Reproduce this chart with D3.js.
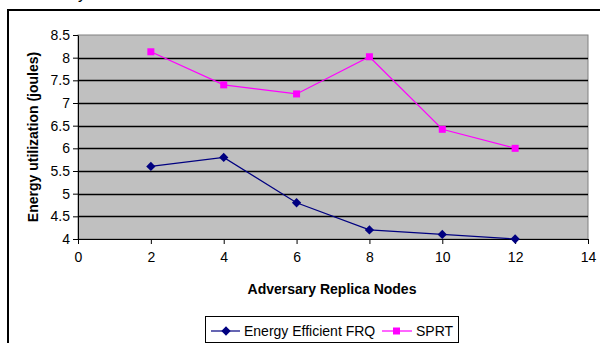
<!DOCTYPE html>
<html>
<head>
<meta charset="utf-8">
<script src="https://cdn.jsdelivr.net/npm/d3@7"></script>
<style>
  body { margin: 0; background: #fff; }
  svg { display: block; font-family: Arial, "Liberation Sans", sans-serif; }
</style>
</head>
<body>
<svg id="chart" width="600" height="343"></svg>
<script>
'use strict';

var xValues = [2, 4, 6, 8, 10, 12];
var frqValues = [5.6, 5.8, 4.8, 4.2, 4.1, 4.0];
var sprtValues = [8.13, 7.4, 7.2, 8.02, 6.42, 6.0];
var xTicks = [0, 2, 4, 6, 8, 10, 12, 14];
var yTicks = [4, 4.5, 5, 5.5, 6, 6.5, 7, 7.5, 8, 8.5];
var seriesNames = ['Energy Efficient FRQ', 'SPRT'];

var svg = d3.select('#chart');
var margin = { top: 35, left: 78, right: 12, bottom: 104 };
var width = 600 - margin.left - margin.right;
var height = 343 - margin.top - margin.bottom;
var fontSize = 14;

// outer chart frame (runs off the page at right/bottom)
svg.append('rect')
    .attr('x', 8).attr('y', 10)
    .attr('width', 620).attr('height', 400)
    .attr('fill', 'none')
    .attr('stroke', '#000')
    .attr('stroke-width', 2);

// clipped descender from text above the chart
svg.append('text')
    .attr('x', 78).attr('y', -1)
    .attr('font-size', 16)
    .text('y');

var xScale = d3.scaleLinear().domain([0, 14]).range([0, width]);
var yScale = d3.scaleLinear().domain([4, 8.5]).range([height, 0]);

var chart = svg.append('g')
    .attr('transform', 'translate(' + margin.left + ',' + margin.top + ')');

chart.append('rect')
    .attr('width', width).attr('height', height)
    .attr('fill', '#c0c0c0')
    .attr('stroke', '#808080')
    .attr('stroke-width', 1);

// gridlines
chart.selectAll('line.grid')
    .data(yTicks.slice(1, -1))
  .enter().append('line')
    .attr('class', 'grid')
    .attr('x1', 0).attr('x2', width)
    .attr('y1', function (d) { return Math.round(yScale(d)) + 0.5; })
    .attr('y2', function (d) { return Math.round(yScale(d)) + 0.5; })
    .attr('stroke', '#000')
    .attr('stroke-width', 1.3);

var xAxis = d3.axisBottom(xScale).tickValues(xTicks).tickSize(5).tickSizeOuter(0).tickPadding(8);
var yAxis = d3.axisLeft(yScale).tickValues(yTicks).tickSize(5).tickSizeOuter(0).tickPadding(3)
    .tickFormat(d3.format('~g'));

var gx = chart.append('g')
    .attr('transform', 'translate(0,' + height + ')')
    .call(xAxis);
var gy = chart.append('g').call(yAxis);

[gx, gy].forEach(function (g) {
  g.selectAll('path, line').attr('stroke', '#000');
  g.selectAll('text').attr('font-size', fontSize).attr('fill', '#000')
      .attr('font-family', 'Arial, "Liberation Sans", sans-serif');
});

// axis titles
svg.append('text')
    .attr('transform', 'translate(38,' + (margin.top + height / 2) + ') rotate(-90)')
    .attr('text-anchor', 'middle')
    .attr('font-size', fontSize)
    .attr('font-weight', 'bold')
    .text('Energy utilization (joules)');

svg.append('text')
    .attr('x', 332).attr('y', 294)
    .attr('text-anchor', 'middle')
    .attr('font-size', fontSize)
    .attr('font-weight', 'bold')
    .text('Adversary Replica Nodes');

var line = d3.line()
    .x(function (d) { return xScale(d[0]); })
    .y(function (d) { return yScale(d[1]); });

var frq = xValues.map(function (x, i) { return [x, frqValues[i]]; });
var sprt = xValues.map(function (x, i) { return [x, sprtValues[i]]; });

var diamond = d3.symbol().type(d3.symbolDiamond2).size(55);

chart.append('path').datum(frq)
    .attr('d', line).attr('fill', 'none')
    .attr('stroke', '#000080').attr('stroke-width', 1.2);
chart.selectAll('path.frq')
    .data(frq)
  .enter().append('path')
    .attr('class', 'frq')
    .attr('d', diamond)
    .attr('transform', function (d) {
      return 'translate(' + xScale(d[0]) + ',' + yScale(d[1]) + ')';
    })
    .attr('fill', '#000080');

chart.append('path').datum(sprt)
    .attr('d', line).attr('fill', 'none')
    .attr('stroke', '#ff00ff').attr('stroke-width', 1.2);
chart.selectAll('rect.sprt')
    .data(sprt)
  .enter().append('rect')
    .attr('class', 'sprt')
    .attr('x', function (d) { return xScale(d[0]) - 3.5; })
    .attr('y', function (d) { return yScale(d[1]) - 3.5; })
    .attr('width', 7).attr('height', 7)
    .attr('fill', '#ff00ff');

// legend
var legend = svg.append('g');
legend.append('rect')
    .attr('x', 205.5).attr('y', 316.5)
    .attr('width', 253).attr('height', 26)
    .attr('fill', '#fff')
    .attr('stroke', '#000')
    .attr('stroke-width', 1);

legend.append('line')
    .attr('x1', 211).attr('x2', 240).attr('y1', 331).attr('y2', 331)
    .attr('stroke', '#000080').attr('stroke-width', 1.2);
legend.append('path')
    .attr('d', diamond)
    .attr('transform', 'translate(226,331)')
    .attr('fill', '#000080');
legend.append('text')
    .attr('x', 244).attr('y', 336)
    .attr('font-size', fontSize)
    .text(seriesNames[0]);

legend.append('line')
    .attr('x1', 382).attr('x2', 412).attr('y1', 331).attr('y2', 331)
    .attr('stroke', '#ff00ff').attr('stroke-width', 1.2);
legend.append('rect')
    .attr('x', 393).attr('y', 327.5)
    .attr('width', 7).attr('height', 7)
    .attr('fill', '#ff00ff');
legend.append('text')
    .attr('x', 416).attr('y', 336)
    .attr('font-size', fontSize)
    .text(seriesNames[1]);
</script>
</body>
</html>
